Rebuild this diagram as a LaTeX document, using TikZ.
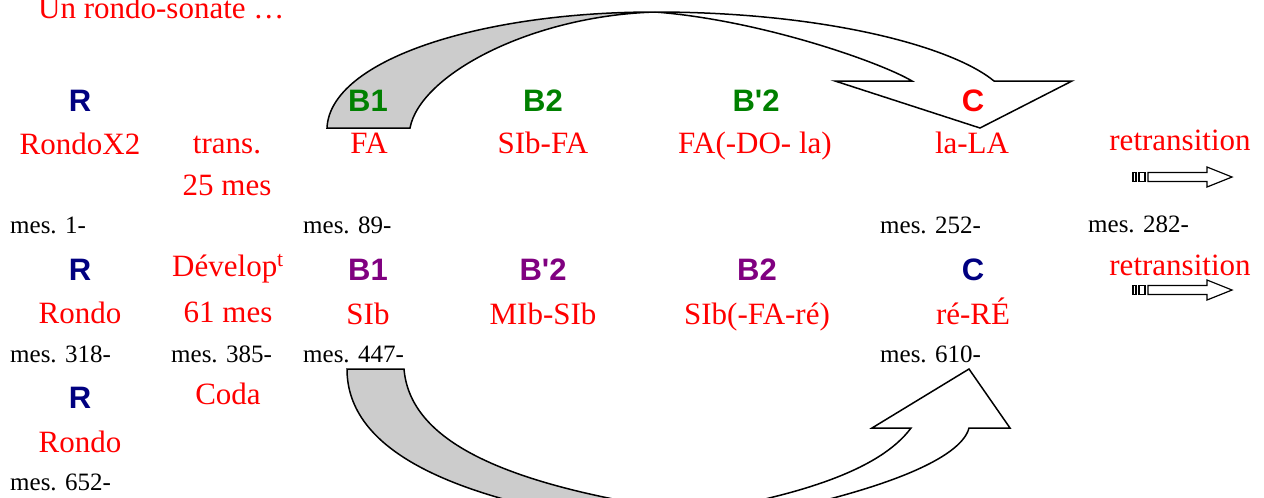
\documentclass[tikz,border=0pt]{standalone}
\usepackage{fontspec}
\setmainfont{Liberation Serif}
\newfontfamily\labfont{Liberation Sans}

\definecolor{navyR}{HTML}{000080}
\definecolor{greenB}{HTML}{008000}
\definecolor{purpleB}{HTML}{800080}
\definecolor{bandgrey}{HTML}{CCCCCC}

\tikzset{
  lab/.style = {anchor = base, inner sep = 0pt, font = \labfont\bfseries\fontsize{31}{31}\selectfont},
  key/.style = {anchor = base, inner sep = 0pt, text = red, font = \fontsize{31}{31}\selectfont},
  mes/.style = {anchor = base west, inner sep = 0pt, font = \fontsize{25}{25}\selectfont},
  ribbon/.style = {draw = black, line width = 1.5pt, line join = miter},
  retrans/.style = {draw = black, fill = white, line width = 1.2pt}
}

\begin{document}
\begin{tikzpicture}[x = 1pt, y = -1pt]
    \useasboundingbox (0,0) rectangle (1264,498);
    \clip (0,0) rectangle (1264,498);

    % arc over the top : FA -> la-LA
    \draw[ribbon, fill = bandgrey] (327,128) .. controls (330,60) and (480,12) .. (655,12)
        .. controls (530,16) and (420,75) .. (410,128) -- cycle;
    \draw[ribbon, fill = white] (655,12) .. controls (820,12) and (950,45) .. (994,81)
        -- (1072,81) -- (980,128) -- (835,81) -- (912,81)
        .. controls (880,62) and (760,20) .. (655,12) -- cycle;

    % arc under the bottom : SIb -> re-RE
    \draw[ribbon, fill = bandgrey] (347,369) -- (404,369)
        .. controls (410,440) and (500,485) .. (690,512) -- (600,520)
        .. controls (450,495) and (347,450) .. (347,369) -- cycle;
    \draw[ribbon, fill = white] (911,428) -- (872,428) -- (969,369) -- (1010,428) -- (969,428)
        .. controls (962,455) and (900,485) .. (775,512) -- (700,512)
        .. controls (800,495) and (880,470) .. (911,428) -- cycle;

    % retransition arrows
    \foreach \y in {177,290} {
        \draw[retrans] (1133,\y-4.5) rectangle (1136,\y+4.5);
        \draw[retrans] (1139,\y-4.5) rectangle (1145,\y+4.5);
        \draw[retrans] (1148,\y-4.5) -- (1207,\y-4.5) -- (1207,\y-10) -- (1232,\y)
            -- (1207,\y+10) -- (1207,\y+4.5) -- (1148,\y+4.5) -- cycle;
    }

    % title
    \node[key, anchor = base west] (TITLE) at (38,18) {Un rondo-sonate …};

    % exposition
    \node[lab, text = navyR] (R1) at (80,111) {R};
    \node[lab, text = greenB] (B1A) at (368,111) {B1};
    \node[lab, text = greenB] (B2A) at (543,111) {B2};
    \node[lab, text = greenB] (B2PA) at (756,111) {B'2};
    \node[lab, text = red] (CA) at (973,111) {C};
    \node[key] (K1) at (80,154) {RondoX2};
    \node[key] (TR) at (227,153) {trans.};
    \node[key] (K2) at (369,153) {FA};
    \node[key] (K3) at (543,153) {SIb-FA};
    \node[key] (K4) at (755,153) {FA(-DO- la)};
    \node[key] (K5) at (972,153) {la-LA};
    \node[key] (RT1) at (1180,150) {retransition};
    \node[key] (TRM) at (227,195) {25 mes};
    \node[mes] (M1) at (10,233) {mes. 1-};
    \node[mes] (M89) at (303,233) {mes. 89-};
    \node[mes] (M252) at (880,233) {mes. 252-};
    \node[mes] (M282) at (1088,232) {mes. 282-};

    % reexposition
    \node[lab, text = navyR] (R2) at (80,280) {R};
    \node[lab, text = purpleB] (B1B) at (368,280) {B1};
    \node[lab, text = purpleB] (B2PB) at (543,280) {B'2};
    \node[lab, text = purpleB] (B2B) at (757,280) {B2};
    \node[lab, text = navyR] (CB) at (973,280) {C};
    \node[key] (DEV) at (228,276) {Dévelop\textsuperscript{t}};
    \node[key] (RT2) at (1180,275) {retransition};
    \node[key] (K6) at (80,323) {Rondo};
    \node[key] (DEVM) at (228,322) {61 mes};
    \node[key] (K7) at (368,324) {SIb};
    \node[key] (K8) at (543,324) {MIb-SIb};
    \node[key] (K9) at (757,324) {SIb(-FA-ré)};
    \node[key] (K10) at (973,324) {ré-RÉ};
    \node[mes] (M318) at (10,362) {mes. 318-};
    \node[mes] (M385) at (171,362) {mes. 385-};
    \node[mes] (M447) at (303,362) {mes. 447-};
    \node[mes] (M610) at (880,362) {mes. 610-};

    % coda
    \node[lab, text = navyR] (R3) at (80,408) {R};
    \node[key] (CODA) at (228,404) {Coda};
    \node[key] (K11) at (80,452) {Rondo};
    \node[mes] (M652) at (10,490) {mes. 652-};
\end{tikzpicture}
\end{document}
